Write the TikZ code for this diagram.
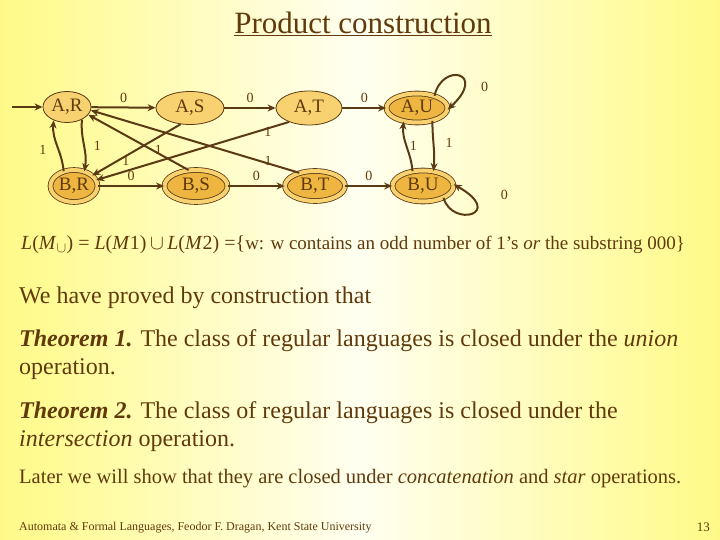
\documentclass[tikz,border=0pt]{standalone}
\usepackage{fontspec}
\setmainfont{Liberation Serif}
\usetikzlibrary{shapes.geometric, arrows.meta, positioning}
\definecolor{ink}{RGB}{96,58,12}
\definecolor{edgeline}{RGB}{90,58,20}
\definecolor{statefill}{RGB}{248,210,112}
\definecolor{acceptfill}{RGB}{238,182,64}
\definecolor{slideyellow}{RGB}{255,250,135}
\definecolor{slidelight}{RGB}{255,255,240}
\tikzset{
    state/.style={ellipse, draw=edgeline, fill=statefill, line width=0.8pt, inner sep=0pt, minimum width=64pt, minimum height=32pt, font=\fontsize{19}{19}\selectfont, text=ink},
    accept/.style={state, fill=acceptfill, double=statefill, double distance=4pt},
    trans/.style={-{Stealth[length=8pt,width=7pt]}, draw=edgeline, line width=2pt},
    sym/.style={font=\fontsize{14}{14}\selectfont, text=ink, inner sep=1pt},
    bodytext/.style={anchor=base west, text=ink, inner sep=0pt, font=\fontsize{24}{24}\selectfont}
}

\begin{document}
\begin{tikzpicture}[x=1pt, y=-1pt]
    % Slide background
    \useasboundingbox (0,0) rectangle (720,540);
    \fill[left color=slideyellow, right color=slideyellow, middle color=slidelight] (0,0) rectangle (720,540);

    % Title
    \node[text=ink, inner sep=0pt, anchor=base, font=\fontsize{31}{31}\selectfont] (title) at (363,34) {\underline{Product construction}};

    % States of the product automaton (top row: A, bottom row: B)
    \node[state, minimum width=48pt, minimum height=31pt] (AR) at (67,107) {A,R};
    \node[state, minimum width=68pt, minimum height=33pt] (AS) at (190,108) {A,S};
    \node[state, minimum width=66pt, minimum height=34pt] (AT) at (309,108) {A,T};
    \node[accept, minimum width=61pt, minimum height=29pt] (AU) at (417,108) {A,U};
    \node[accept, minimum width=47pt, minimum height=32pt] (BR) at (74,186) {B,R};
    \node[accept, minimum width=63pt, minimum height=32pt] (BS) at (196,186) {B,S};
    \node[accept, minimum width=60pt, minimum height=30pt] (BT) at (315,186) {B,T};
    \node[accept, minimum width=61pt, minimum height=31pt] (BU) at (423,186) {B,U};
    \coordinate (start) at (12,107);

    % Transitions on 0
    \draw[trans] (start) -- (AR);
    \draw[trans] (AR) -- node[sym, above=3pt] {0} (AS);
    \draw[trans] (AS) -- node[sym, above=3pt] {0} (AT);
    \draw[trans] (AT) -- node[sym, above=3pt] {0} (AU);
    \draw[trans] (BR) -- node[sym, above=3pt] {0} (BS);
    \draw[trans] (BS) -- node[sym, above=3pt] {0} (BT);
    \draw[trans] (BT) -- node[sym, above=3pt] {0} (BU);
    \draw[trans] (AU.35) .. controls (442,62) and (488,72) .. node[sym, pos=.65, xshift=21pt, yshift=-6pt] {0} (AU.-3);
    \draw[trans] (BU.-30) .. controls (452,228) and (506,214) .. node[sym, pos=.75, xshift=29pt, yshift=8pt] {0} (BU.3);

    % Transitions on 1
    \draw[trans] (AR.-40) to[out=-95, in=80] node[sym, right=8pt] {1} (BR.55);
    \draw[trans] (BR.125) to[out=95, in=-95] node[sym, left=9pt, yshift=-4pt] {1} (AR.-135);
    \draw[trans] (AU.-40) to[out=-90, in=85] node[sym, right=10pt, yshift=3pt] {1} (BU.55);
    \draw[trans] (BU.125) to[out=95, in=-95] node[sym, right=1pt] {1} (AU.-135);
    \draw[trans] (AS.-120) -- node[sym, pos=.62, below=-2pt] {1} (BR.30);
    \draw[trans] (BS.115) -- node[sym, pos=.3, above=-3pt] {1} (AR.-20);
    \draw[trans] (AT.-145) -- node[sym, pos=.11, below=-3pt] {1} (BR.15);
    \draw[trans] (BT.140) -- node[sym, pos=.15, above=-4pt] {1} (AR.-8);

    % Language of the union automaton
    \node[anchor=base west, text=ink, inner sep=0pt, font=\fontsize{20}{20}\selectfont] (union) at (21,249)
        {\textit{L}(\textit{M}$_{\cup}$) = \textit{L}(\textit{M}1)$\,\cup\,$\textit{L}(\textit{M}2) =\{\fontsize{19}{19}\selectfont w: w contains an odd number of 1’s \textit{or} the substring 000\}};

    % Closure theorems
    \node[bodytext] (proved) at (19,303) {We have proved by construction that};
    \node[bodytext] (thmone) at (19,346) {\textbf{\textit{Theorem 1.}} The class of regular languages is closed under the \textit{union}};
    \node[bodytext] (thmonecont) at (19,374) {operation.};
    \node[bodytext] (thmtwo) at (19,418) {\textbf{\textit{Theorem 2.}} The class of regular languages is closed under the};
    \node[bodytext] (thmtwocont) at (19,446) {\textit{intersection} operation.};
    \node[bodytext, font=\fontsize{20.5}{20.5}\selectfont] (later) at (19,483) {Later we will show that they are closed under \textit{concatenation} and \textit{star} operations.};

    % Footer
    \node[bodytext, font=\fontsize{12}{12}\selectfont] (footer) at (19,530) {Automata \& Formal Languages, Feodor F. Dragan, Kent State University};
    \node[anchor=base east, text=ink, inner sep=0pt, font=\fontsize{13}{13}\selectfont] (pagenum) at (710,531) {13};
\end{tikzpicture}
\end{document}
